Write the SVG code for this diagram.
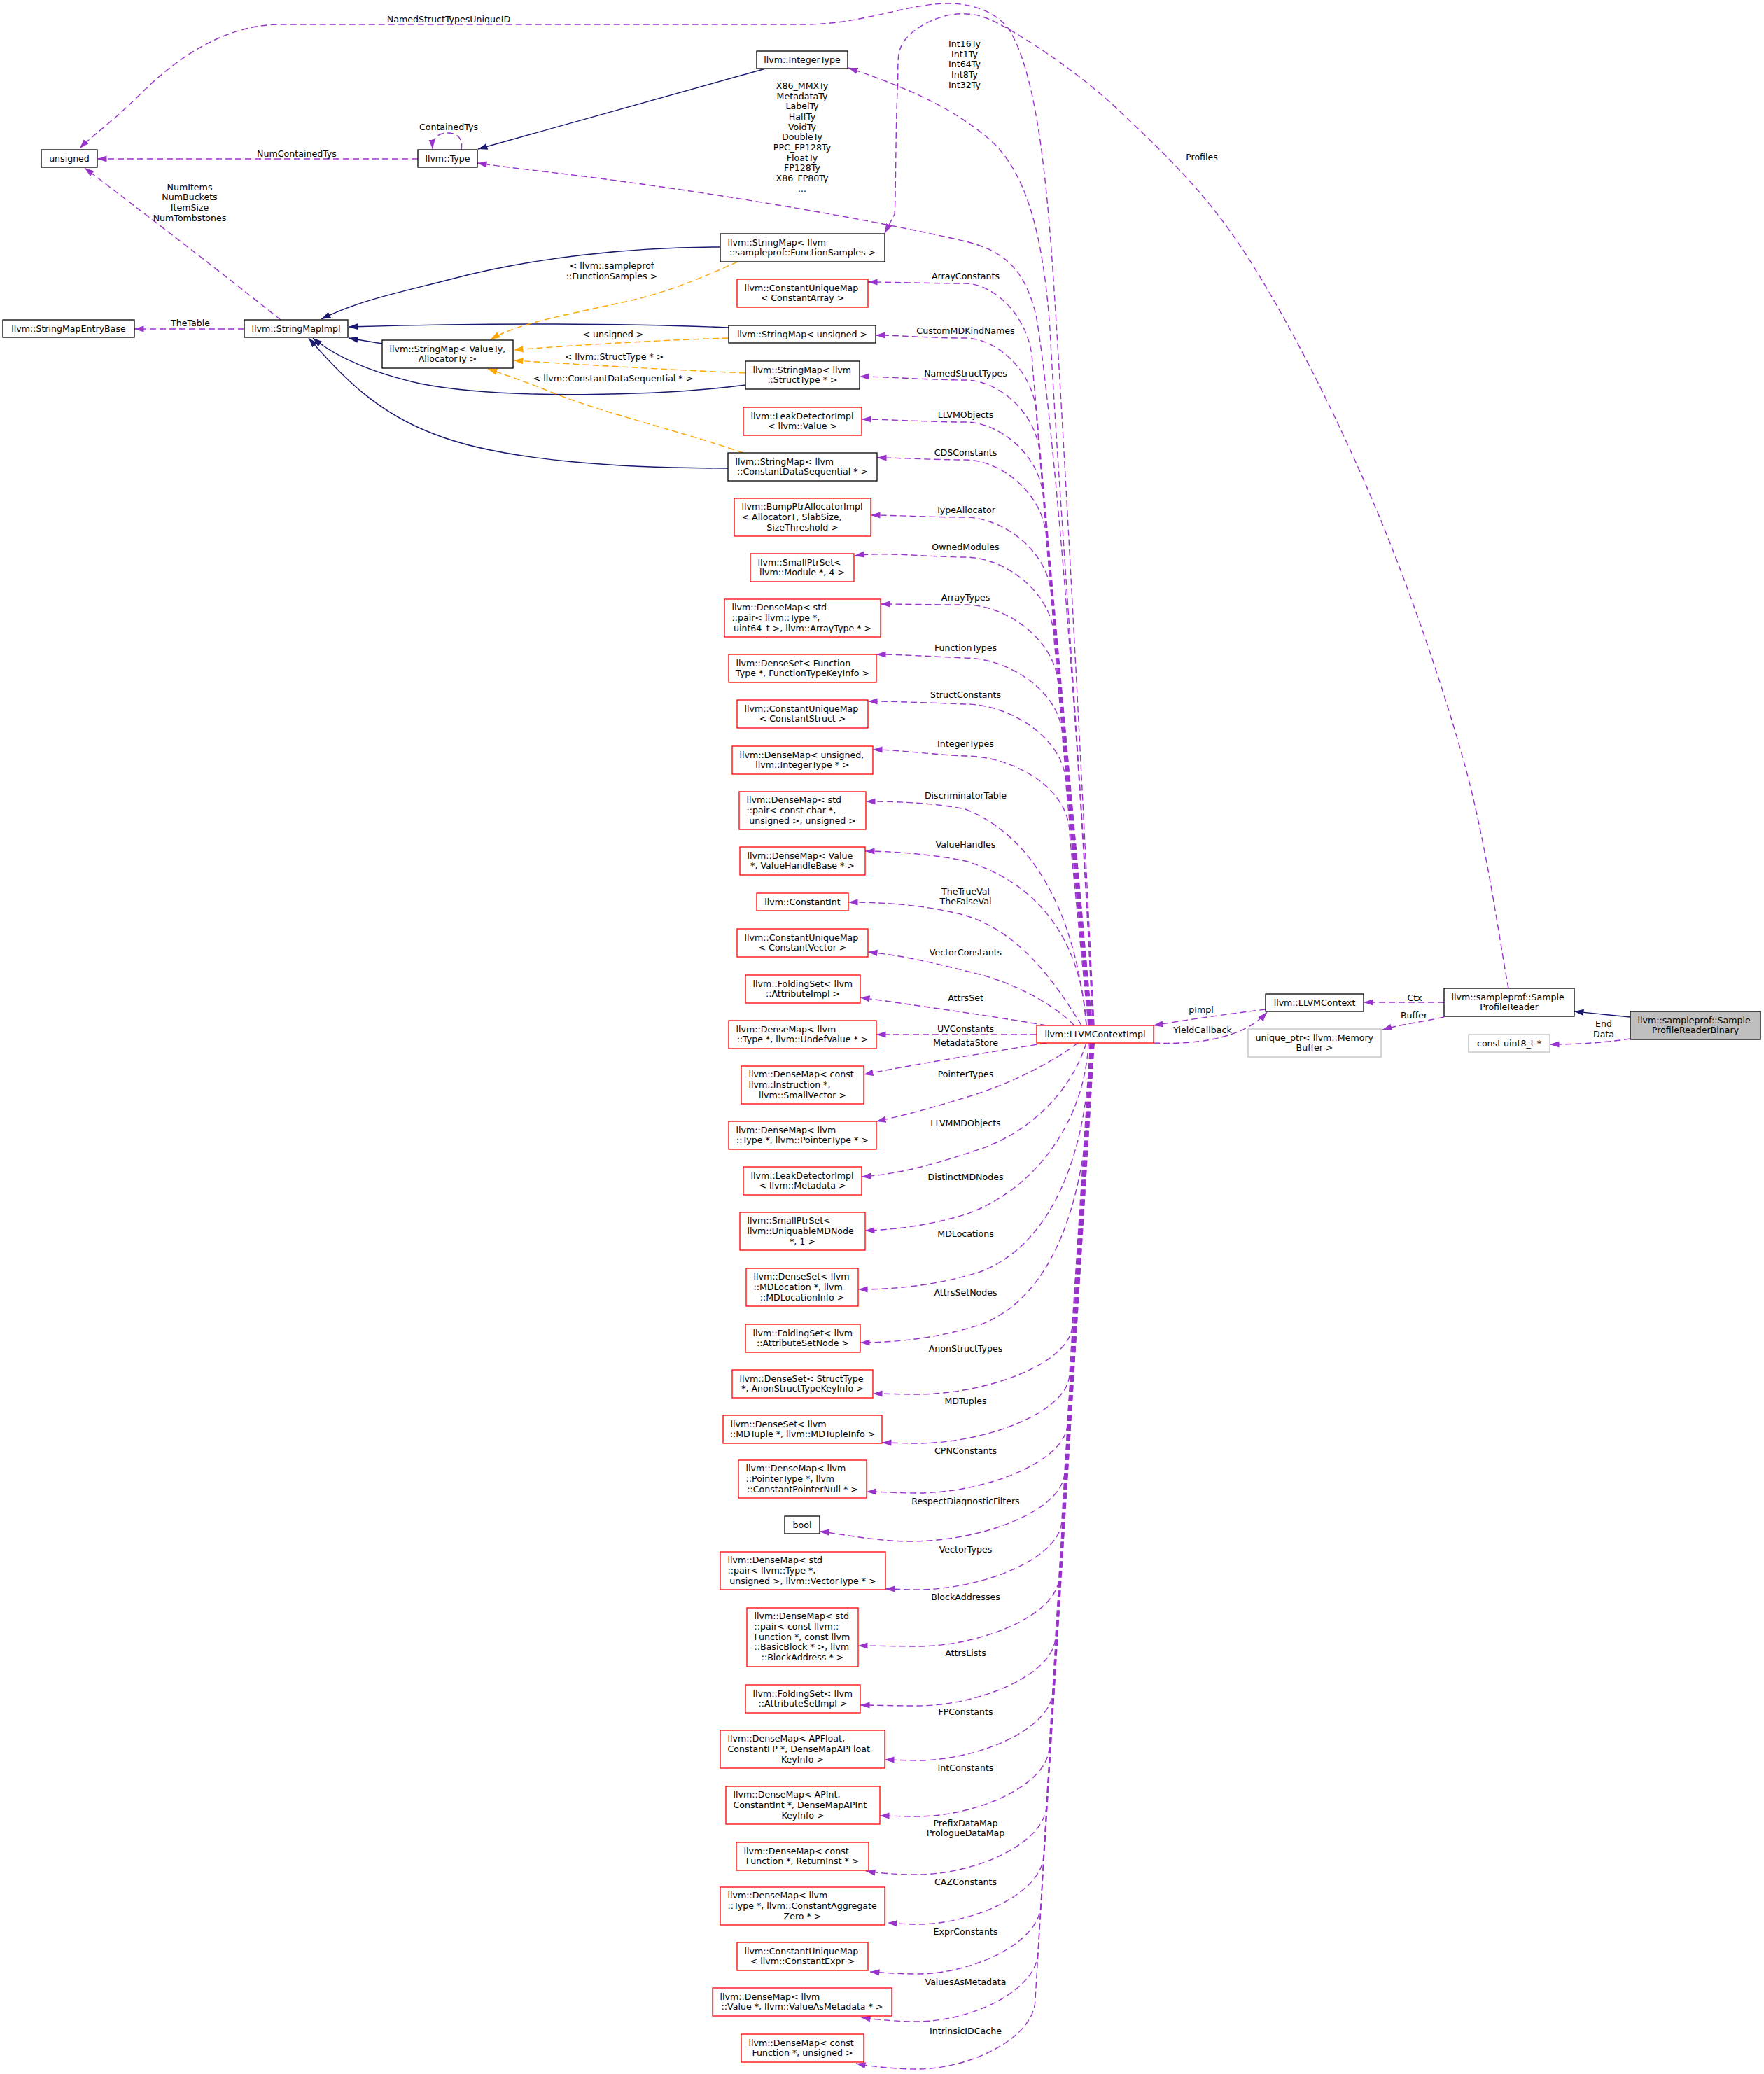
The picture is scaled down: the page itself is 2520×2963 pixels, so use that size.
<svg xmlns="http://www.w3.org/2000/svg" width="2520" height="2963" viewBox="0 0 2520 2963">
<defs>
<style>
text{font-family:"DejaVu Sans","Liberation Sans",sans-serif;font-size:12.6px;fill:#000}
.m{text-anchor:middle}
.nb{fill:#fff;stroke:#000;stroke-width:1.3}
.nr{fill:#fff;stroke:#ff0000;stroke-width:1.3}
.ng{fill:#fff;stroke:#bfbfbf;stroke-width:1.3}
.nf{fill:#bfbfbf;stroke:#000;stroke-width:1.3}
.ep{fill:none;stroke:#9a32cd;stroke-width:1.4;stroke-dasharray:9,5;marker-end:url(#mp)}
.en{fill:none;stroke:#191970;stroke-width:1.4;marker-end:url(#mn)}
.eo{fill:none;stroke:#ffa500;stroke-width:1.4;stroke-dasharray:9,5;marker-end:url(#mo)}
</style>
<marker id="mp" viewBox="0 0 14 10" refX="13.5" refY="5" markerWidth="14" markerHeight="10" markerUnits="userSpaceOnUse" orient="auto"><path d="M0,0.4 L13.5,5 L0,9.6 z" fill="#9a32cd"/></marker>
<marker id="mn" viewBox="0 0 14 10" refX="13.5" refY="5" markerWidth="14" markerHeight="10" markerUnits="userSpaceOnUse" orient="auto"><path d="M0,0.4 L13.5,5 L0,9.6 z" fill="#191970"/></marker>
<marker id="mo" viewBox="0 0 14 10" refX="13.5" refY="5" markerWidth="14" markerHeight="10" markerUnits="userSpaceOnUse" orient="auto"><path d="M0,0.4 L13.5,5 L0,9.6 z" fill="#ffa500"/></marker>
</defs>
<rect x="0" y="0" width="2520" height="2963" fill="#fff"/>

<g id="edges">
<path class="ep" d="M 1563,1465 C 1545,1100 1520,620 1505,400 C 1495,250 1480,100 1440,40 C 1420,15 1385,4 1350,5 C 1290,7 1230,35 1150,35 L 401,35 C 320,35 250,85 200,135 C 160,175 130,195 114,212"/>
<text class="m" x="641" y="31.5">NamedStructTypesUniqueID</text>
<path class="ep" d="M 1561,1465 C 1540,1000 1500,560 1480,450 C 1465,390 1440,360 1380,345 C 1250,315 1050,280 850,254 C 780,245 730,240 682,233"/>
<text class="m" x="1146" y="126.8">X86_MMXTy</text>
<text class="m" x="1146" y="141.5">MetadataTy</text>
<text class="m" x="1146" y="156.2">LabelTy</text>
<text class="m" x="1146" y="170.9">HalfTy</text>
<text class="m" x="1146" y="185.6">VoidTy</text>
<text class="m" x="1146" y="200.3">DoubleTy</text>
<text class="m" x="1146" y="215">PPC_FP128Ty</text>
<text class="m" x="1146" y="229.7">FloatTy</text>
<text class="m" x="1146" y="244.4">FP128Ty</text>
<text class="m" x="1146" y="259.1">X86_FP80Ty</text>
<text class="m" x="1146" y="273.8">...</text>
<path class="ep" d="M 1562,1465 C 1545,1100 1512,700 1500,470 C 1490,330 1465,250 1420,205 C 1360,150 1280,120 1212,97"/>
<text class="m" x="1378" y="66.8">Int16Ty</text>
<text class="m" x="1378" y="81.5">Int1Ty</text>
<text class="m" x="1378" y="96.2">Int64Ty</text>
<text class="m" x="1378" y="110.9">Int8Ty</text>
<text class="m" x="1378" y="125.6">Int32Ty</text>
<path class="ep" d="M 2155,1412 C 2144.3,1357.8 2124,1204.7 2091,1087 C 2058,969.3 2009,826.8 1957,706 C 1905,585.2 1837.8,452.5 1779,362 C 1720.2,271.5 1658.8,215.5 1604,163 C 1549.2,110.5 1489.5,70.8 1450,47 C 1410.5,23.2 1393.2,18.3 1367,20 C 1340.8,21.7 1307.2,38.2 1293,57 C 1278.8,75.8 1284.5,90.2 1282,133 C 1279.5,175.8 1280,281 1278,306 L 1264,333"/>
<text class="m" x="1717" y="229">Profiles</text>

<path class="ep" d="M 1560,1465 L 1475,523 C 1475,457 1422,405 1379,405 C 1330,405 1275,403 1240,403"/>
<text class="m" x="1379.5" y="398.5">ArrayConstants</text>
<path class="ep" d="M 1560,1465 L 1481,599 C 1481,533 1425,483 1379,483 C 1330,483 1286,479 1251,479"/>
<text class="m" x="1379.5" y="477">CustomMDKindNames</text>
<path class="ep" d="M 1559,1465 L 1486,658 C 1486,592 1427,543 1379,543 C 1330,543 1263,538 1228,538"/>
<text class="m" x="1379.5" y="537.5">NamedStructTypes</text>
<path class="ep" d="M 1559,1465 L 1491,719 C 1491,653 1429,603 1379,603 C 1330,603 1266,599 1231,599"/>
<text class="m" x="1379.5" y="597.2">LLVMObjects</text>
<path class="ep" d="M 1558,1465 L 1495,774 C 1495,708 1431,657 1379,657 C 1330,657 1288,654 1253,654"/>
<text class="m" x="1379.5" y="650.5">CDSConstants</text>
<path class="ep" d="M 1558,1465 L 1502,856 C 1502,790 1434,739 1379,739 C 1330,739 1279,736 1244,736"/>
<text class="m" x="1379.5" y="732.5">TypeAllocator</text>
<path class="ep" d="M 1557,1465 L 1506,914 C 1506,848 1436,796 1379,796 C 1330,796 1260,788 1221,794"/>
<text class="m" x="1379.5" y="785.5">OwnedModules</text>
<path class="ep" d="M 1557,1465 L 1512,983 C 1512,917 1439,864 1379,864 C 1330,864 1293,863 1258,863"/>
<text class="m" x="1379.5" y="857.5">ArrayTypes</text>
<path class="ep" d="M 1556,1465 L 1518,1055 C 1518,989 1441,940 1379,940 C 1330,938 1287,935 1252,935"/>
<text class="m" x="1379.5" y="929.5">FunctionTypes</text>
<path class="ep" d="M 1556,1465 L 1523,1122 C 1523,1056 1444,1006 1379,1006 C 1330,1004 1275,1002 1240,1002"/>
<text class="m" x="1379.5" y="997.2">StructConstants</text>
<path class="ep" d="M 1555,1465 L 1528,1191 C 1528,1125 1446,1080 1379,1080 C 1330,1078 1282,1071 1247,1071"/>
<text class="m" x="1379.5" y="1066.5">IntegerTypes</text>
<path class="ep" d="M 1552,1465 C 1540,1330 1490,1200 1379,1156 C 1330,1146 1272,1145 1237,1145"/>
<text class="m" x="1379.5" y="1140.5">DiscriminatorTable</text>
<path class="ep" d="M 1552,1465 C 1545,1340 1480,1260 1379,1230 C 1330,1220 1272,1216 1236,1216"/>
<text class="m" x="1379.5" y="1210.5">ValueHandles</text>
<path class="ep" d="M 1545,1465 C 1500,1390 1450,1330 1380,1308 C 1320,1292 1260,1289 1212,1289"/>
<text class="m" x="1379.5" y="1277.5">TheTrueVal</text>
<text class="m" x="1379.5" y="1292.2">TheFalseVal</text>
<path class="ep" d="M 1535,1465 C 1500,1430 1440,1400 1379,1387 C 1320,1372 1280,1364 1240,1360"/>
<text class="m" x="1379.5" y="1365">VectorConstants</text>
<path class="ep" d="M 1495,1465 C 1420,1452 1300,1435 1229,1425"/>
<text class="m" x="1379.5" y="1429.5">AttrsSet</text>
<path class="ep" d="M 1481,1478 L 1252,1478"/>
<text class="m" x="1379.5" y="1474">UVConstants</text>

<path class="ep" d="M 1495,1490 C 1420,1502 1300,1522 1234,1535"/>
<text class="m" x="1379.5" y="1493.5">MetadataStore</text>
<path class="ep" d="M 1540,1490 C 1500,1520 1440,1550 1379,1568 C 1330,1583 1290,1594 1252,1602"/>
<text class="m" x="1379.5" y="1539">PointerTypes</text>
<path class="ep" d="M 1552,1490 C 1530,1560 1470,1620 1393,1644 C 1330,1665 1280,1678 1231,1681"/>
<text class="m" x="1379.5" y="1608.5">LLVMMDObjects</text>
<path class="ep" d="M 1555,1490 C 1550,1600 1480,1700 1379,1735 C 1330,1750 1280,1757 1236,1758"/>
<text class="m" x="1379.5" y="1685.5">DistinctMDNodes</text>
<path class="ep" d="M 1557,1490 C 1555,1650 1500,1780 1400,1817 C 1340,1836 1280,1842 1226,1842"/>
<text class="m" x="1379.5" y="1766.5">MDLocations</text>
<path class="ep" d="M 1558,1490 C 1560,1700 1510,1850 1402,1892 C 1340,1912 1280,1918 1229,1918"/>
<text class="m" x="1379.5" y="1850.5">AttrsSetNodes</text>
<path class="ep" d="M 1558,1490 L 1532,1892 C 1532,1947 1410,1992 1310,1992 C 1285,1992 1262,1991 1247,1991"/>
<text class="m" x="1379.5" y="1931">AnonStructTypes</text>
<path class="ep" d="M 1559,1490 L 1528,1962 C 1528,2017 1408,2062 1310,2062 C 1290,2062 1275,2061 1260,2061"/>
<text class="m" x="1379.5" y="2006">MDTuples</text>
<path class="ep" d="M 1559,1490 L 1525,2033 C 1525,2088 1407,2133 1310,2133 C 1280,2133 1258,2131 1238,2131"/>
<text class="m" x="1379.5" y="2077">CPNConstants</text>
<path class="ep" d="M 1560,1490 L 1521,2102 C 1521,2157 1405,2202 1300,2202 C 1250,2202 1195,2190 1171,2188"/>
<text class="m" x="1379.5" y="2149">RespectDiagnosticFilters</text>
<path class="ep" d="M 1560,1490 L 1517,2171 C 1517,2226 1403,2271 1310,2271 C 1290,2271 1280,2270 1265,2270"/>
<text class="m" x="1379.5" y="2217.5">VectorTypes</text>
<path class="ep" d="M 1560,1490 L 1513,2252 C 1513,2307 1401,2352 1310,2352 C 1280,2352 1246,2351 1226,2351"/>
<text class="m" x="1379.5" y="2285.5">BlockAddresses</text>
<path class="ep" d="M 1561,1490 L 1508,2337 C 1508,2392 1399,2437 1310,2437 C 1280,2437 1249,2436 1229,2436"/>
<text class="m" x="1379.5" y="2365.5">AttrsLists</text>
<path class="ep" d="M 1561,1490 L 1504,2415 C 1504,2470 1397,2515 1310,2515 C 1290,2515 1279,2514 1264,2514"/>
<text class="m" x="1379.5" y="2449.5">FPConstants</text>
<path class="ep" d="M 1561,1490 L 1499,2495 C 1499,2550 1395,2595 1310,2595 C 1290,2595 1272,2594 1257,2594"/>
<text class="m" x="1379.5" y="2529.5">IntConstants</text>
<path class="ep" d="M 1562,1490 L 1495,2578 C 1495,2633 1393,2678 1310,2678 C 1280,2678 1255,2676 1237,2673"/>
<text class="m" x="1379.5" y="2608.5">PrefixDataMap</text>
<text class="m" x="1379.5" y="2623.2">PrologueDataMap</text>
<path class="ep" d="M 1562,1490 L 1491,2649 C 1491,2704 1391,2749 1310,2749 C 1295,2749 1283,2748 1268,2747"/>
<text class="m" x="1379.5" y="2692.5">CAZConstants</text>
<path class="ep" d="M 1562,1490 L 1487,2720 C 1487,2775 1390,2820 1310,2820 C 1285,2820 1260,2818 1243,2817"/>
<text class="m" x="1379.5" y="2763.5">ExprConstants</text>
<path class="ep" d="M 1563,1490 L 1483,2788 C 1483,2843 1388,2888 1310,2888 C 1280,2888 1250,2885 1230,2882"/>
<text class="m" x="1379.5" y="2835.5">ValuesAsMetadata</text>
<path class="ep" d="M 1563,1490 L 1479,2856 C 1479,2911 1386,2956 1310,2956 C 1280,2956 1243,2952 1223,2948"/>
<text class="m" x="1379.5" y="2905.5">IntrinsicIDCache</text>

<path class="ep" d="M 1808,1442 C 1760,1448 1700,1456 1648,1465"/>
<text class="m" x="1716" y="1446.5">pImpl</text>
<path class="ep" d="M 1648,1490 C 1720,1493 1780,1480 1810,1446"/>
<text class="m" x="1718" y="1475.5">YieldCallback</text>
<path class="ep" d="M 2063,1432 L 1948,1432"/>
<text class="m" x="2021" y="1429.5">Ctx</text>
<path class="ep" d="M 2063,1453 C 2030,1460 2000,1464 1975,1471"/>
<text class="m" x="2020" y="1454.5">Buffer</text>
<path class="ep" d="M 2329,1484 C 2290,1490 2250,1492 2214,1492"/>
<text class="m" x="2291" y="1466.8">End</text>
<text class="m" x="2291" y="1482.2">Data</text>
<path class="en" d="M 2329,1453 L 2249,1445"/>

<path class="ep" d="M 659,214 C 662,200 655,190 640,190 C 625,190 617,198 618,213"/>
<text class="m" x="641" y="185.5">ContainedTys</text>
<path class="ep" d="M 597,227 L 139,227"/>
<text class="m" x="424" y="223.5">NumContainedTys</text>
<path class="ep" d="M 401,457 C 330,400 200,300 121,240"/>
<text class="m" x="271" y="271.5">NumItems</text>
<text class="m" x="271" y="286.2">NumBuckets</text>
<text class="m" x="271" y="300.9">ItemSize</text>
<text class="m" x="271" y="315.6">NumTombstones</text>
<path class="ep" d="M 349,470 L 192,470"/>
<text class="m" x="272" y="465.5">TheTable</text>

<path class="en" d="M 1094,98 L 683,213"/>
<path class="en" d="M 1029,353 C 900,353 760,368 640,400 C 570,418 510,430 459,456"/>
<path class="en" d="M 1041,468 C 900,462 700,461 498,467"/>
<path class="en" d="M 546,491 L 498,483"/>
<path class="en" d="M 1065,550 C 950,565 720,572 600,548 C 530,532 480,510 447,483"/>
<path class="en" d="M 1040,669 C 900,669 720,660 620,620 C 540,590 490,540 441,483"/>

<path class="eo" d="M 1054,374 C 1000,398 950,420 880,434 C 800,452 740,462 701,485"/>
<text class="m" x="874" y="383.8">&lt; llvm::sampleprof</text>
<text class="m" x="874" y="398.5">::FunctionSamples &gt;</text>
<path class="eo" d="M 1041,483 C 950,486 850,491 734,500"/>
<text class="m" x="876" y="482.2">&lt; unsigned &gt;</text>
<path class="eo" d="M 1065,533 C 950,528 850,522 734,515"/>
<text class="m" x="877.5" y="513.5">&lt; llvm::StructType * &gt;</text>
<path class="eo" d="M 1062,647 C 960,612 860,590 787,560 C 750,545 720,535 697,527"/>
<text class="m" x="876" y="545.2">&lt; llvm::ConstantDataSequential * &gt;</text>
</g>

<g id="n_unsigned"><rect class="nb" x="59" y="214" width="80" height="25"/><text class="m" x="99" y="231">unsigned</text></g>
<g id="n_type"><rect class="nb" x="597" y="214" width="85" height="25"/><text class="m" x="639.5" y="231">llvm::Type</text></g>
<g id="n_integertype"><rect class="nb" x="1081" y="73" width="130" height="25"/><text class="m" x="1146" y="90">llvm::IntegerType</text></g>
<g id="n_stringmapentrybase"><rect class="nb" x="4" y="457" width="188" height="25"/><text class="m" x="98" y="474">llvm::StringMapEntryBase</text></g>
<g id="n_stringmapimpl"><rect class="nb" x="349" y="457" width="148" height="25"/><text class="m" x="423" y="474">llvm::StringMapImpl</text></g>
<g id="n_stringmap_tpl"><rect class="nb" x="546" y="486" width="187" height="40"/><text x="556.5" y="502.6">llvm::StringMap&lt; ValueTy,</text><text class="m" x="639.5" y="517.3">AllocatorTy &gt;</text></g>
<g id="n_stringmap_fs"><rect class="nb" x="1029" y="334" width="235" height="40"/><text x="1039.5" y="350.6">llvm::StringMap&lt; llvm</text><text class="m" x="1146.5" y="365.3">::sampleprof::FunctionSamples &gt;</text></g>
<g id="n_cum_array"><rect class="nr" x="1053" y="399" width="187" height="40"/><text x="1063.5" y="415.6">llvm::ConstantUniqueMap</text><text class="m" x="1146.5" y="430.3">&lt; ConstantArray &gt;</text></g>
<g id="n_stringmap_unsigned"><rect class="nb" x="1041" y="465" width="210" height="25"/><text class="m" x="1146" y="482">llvm::StringMap&lt; unsigned &gt;</text></g>
<g id="n_stringmap_struct"><rect class="nb" x="1065" y="516" width="163" height="40"/><text x="1075.5" y="532.6">llvm::StringMap&lt; llvm</text><text class="m" x="1146.5" y="547.3">::StructType * &gt;</text></g>
<g id="n_leak_value"><rect class="nr" x="1062" y="582" width="169" height="40"/><text x="1072.5" y="598.6">llvm::LeakDetectorImpl</text><text class="m" x="1146.5" y="613.3">&lt; llvm::Value &gt;</text></g>
<g id="n_stringmap_cds"><rect class="nb" x="1040" y="647" width="213" height="40"/><text x="1050.5" y="663.6">llvm::StringMap&lt; llvm</text><text class="m" x="1146.5" y="678.3">::ConstantDataSequential * &gt;</text></g>
<g id="n_bumpptr"><rect class="nr" x="1049" y="712" width="195" height="54"/><text x="1059.5" y="728.3">llvm::BumpPtrAllocatorImpl</text><text x="1059.5" y="743">&lt; AllocatorT, SlabSize,</text><text class="m" x="1146.5" y="757.7">SizeThreshold &gt;</text></g>
<g id="n_sps_module"><rect class="nr" x="1072" y="791" width="148" height="40"/><text x="1082.5" y="807.6">llvm::SmallPtrSet&lt;</text><text class="m" x="1146" y="822.3">llvm::Module *, 4 &gt;</text></g>
<g id="n_dm_arraytype"><rect class="nr" x="1035" y="856" width="223" height="54"/><text x="1045.5" y="872.3">llvm::DenseMap&lt; std</text><text x="1045.5" y="887">::pair&lt; llvm::Type *,</text><text class="m" x="1146.5" y="901.7">uint64_t &gt;, llvm::ArrayType * &gt;</text></g>
<g id="n_ds_functiontype"><rect class="nr" x="1041" y="935" width="211" height="40"/><text x="1051.5" y="951.6">llvm::DenseSet&lt; Function</text><text class="m" x="1146.5" y="966.3">Type *, FunctionTypeKeyInfo &gt;</text></g>
<g id="n_cum_struct"><rect class="nr" x="1053" y="1000" width="187" height="40"/><text x="1063.5" y="1016.6">llvm::ConstantUniqueMap</text><text class="m" x="1146.5" y="1031.3">&lt; ConstantStruct &gt;</text></g>
<g id="n_dm_integertype"><rect class="nr" x="1046" y="1066" width="201" height="40"/><text x="1056.5" y="1082.6">llvm::DenseMap&lt; unsigned,</text><text class="m" x="1146.5" y="1097.3">llvm::IntegerType * &gt;</text></g>
<g id="n_dm_discriminator"><rect class="nr" x="1056" y="1131" width="181" height="54"/><text x="1066.5" y="1147.3">llvm::DenseMap&lt; std</text><text x="1066.5" y="1162">::pair&lt; const char *,</text><text class="m" x="1146.5" y="1176.7">unsigned &gt;, unsigned &gt;</text></g>
<g id="n_dm_valuehandle"><rect class="nr" x="1057" y="1210" width="179" height="40"/><text x="1067.5" y="1226.6">llvm::DenseMap&lt; Value</text><text class="m" x="1146.5" y="1241.3">*, ValueHandleBase * &gt;</text></g>
<g id="n_constantint"><rect class="nr" x="1081" y="1276" width="131" height="25"/><text class="m" x="1146.5" y="1293">llvm::ConstantInt</text></g>
<g id="n_cum_vector"><rect class="nr" x="1053" y="1327" width="187" height="40"/><text x="1063.5" y="1343.6">llvm::ConstantUniqueMap</text><text class="m" x="1146.5" y="1358.3">&lt; ConstantVector &gt;</text></g>
<g id="n_fs_attributeimpl"><rect class="nr" x="1065" y="1393" width="164" height="40"/><text x="1075.5" y="1409.6">llvm::FoldingSet&lt; llvm</text><text class="m" x="1147" y="1424.3">::AttributeImpl &gt;</text></g>
<g id="n_dm_undef"><rect class="nr" x="1041" y="1458" width="211" height="40"/><text x="1051.5" y="1474.6">llvm::DenseMap&lt; llvm</text><text class="m" x="1146.5" y="1489.3">::Type *, llvm::UndefValue * &gt;</text></g>
<g id="n_dm_instruction"><rect class="nr" x="1059" y="1523" width="175" height="54"/><text x="1069.5" y="1539.3">llvm::DenseMap&lt; const</text><text x="1069.5" y="1554">llvm::Instruction *,</text><text class="m" x="1146.5" y="1568.7">llvm::SmallVector &gt;</text></g>
<g id="n_dm_pointertype"><rect class="nr" x="1041" y="1602" width="211" height="40"/><text x="1051.5" y="1618.6">llvm::DenseMap&lt; llvm</text><text class="m" x="1146.5" y="1633.3">::Type *, llvm::PointerType * &gt;</text></g>
<g id="n_leak_metadata"><rect class="nr" x="1062" y="1667" width="169" height="40"/><text x="1072.5" y="1683.6">llvm::LeakDetectorImpl</text><text class="m" x="1146.5" y="1698.3">&lt; llvm::Metadata &gt;</text></g>
<g id="n_sps_mdnode"><rect class="nr" x="1057" y="1732" width="179" height="54"/><text x="1067.5" y="1748.3">llvm::SmallPtrSet&lt;</text><text x="1067.5" y="1763">llvm::UniquableMDNode</text><text class="m" x="1146.5" y="1777.7">*, 1 &gt;</text></g>
<g id="n_ds_mdlocation"><rect class="nr" x="1066" y="1812" width="160" height="54"/><text x="1076.5" y="1828.3">llvm::DenseSet&lt; llvm</text><text x="1076.5" y="1843">::MDLocation *, llvm</text><text class="m" x="1146" y="1857.7">::MDLocationInfo &gt;</text></g>
<g id="n_fs_attrsetnode"><rect class="nr" x="1065" y="1892" width="164" height="40"/><text x="1075.5" y="1908.6">llvm::FoldingSet&lt; llvm</text><text class="m" x="1147" y="1923.3">::AttributeSetNode &gt;</text></g>
<g id="n_ds_anonstruct"><rect class="nr" x="1046" y="1957" width="201" height="40"/><text x="1056.5" y="1973.6">llvm::DenseSet&lt; StructType</text><text class="m" x="1146.5" y="1988.3">*, AnonStructTypeKeyInfo &gt;</text></g>
<g id="n_ds_mdtuple"><rect class="nr" x="1033" y="2022" width="227" height="40"/><text x="1043.5" y="2038.6">llvm::DenseSet&lt; llvm</text><text class="m" x="1146.5" y="2053.3">::MDTuple *, llvm::MDTupleInfo &gt;</text></g>
<g id="n_dm_cpn"><rect class="nr" x="1055" y="2086" width="183" height="54"/><text x="1065.5" y="2102.3">llvm::DenseMap&lt; llvm</text><text x="1065.5" y="2117">::PointerType *, llvm</text><text class="m" x="1146.5" y="2131.7">::ConstantPointerNull * &gt;</text></g>
<g id="n_bool"><rect class="nb" x="1121" y="2166" width="50" height="25"/><text class="m" x="1146" y="2183">bool</text></g>
<g id="n_dm_vectortype"><rect class="nr" x="1029" y="2217" width="236" height="54"/><text x="1039.5" y="2233.3">llvm::DenseMap&lt; std</text><text x="1039.5" y="2248">::pair&lt; llvm::Type *,</text><text class="m" x="1147" y="2262.7">unsigned &gt;, llvm::VectorType * &gt;</text></g>
<g id="n_dm_blockaddress"><rect class="nr" x="1067" y="2297" width="159" height="84"/><text x="1077.5" y="2313.3">llvm::DenseMap&lt; std</text><text x="1077.5" y="2328">::pair&lt; const llvm::</text><text x="1077.5" y="2342.7">Function *, const llvm</text><text x="1077.5" y="2357.4">::BasicBlock * &gt;, llvm</text><text class="m" x="1146.5" y="2372.1">::BlockAddress * &gt;</text></g>
<g id="n_fs_attrsetimpl"><rect class="nr" x="1065" y="2407" width="164" height="40"/><text x="1075.5" y="2423.6">llvm::FoldingSet&lt; llvm</text><text class="m" x="1147" y="2438.3">::AttributeSetImpl &gt;</text></g>
<g id="n_dm_apfloat"><rect class="nr" x="1029" y="2472" width="235" height="54"/><text x="1039.5" y="2488.3">llvm::DenseMap&lt; APFloat,</text><text x="1039.5" y="2503">ConstantFP *, DenseMapAPFloat</text><text class="m" x="1146.5" y="2517.7">KeyInfo &gt;</text></g>
<g id="n_dm_apint"><rect class="nr" x="1037" y="2552" width="220" height="54"/><text x="1047.5" y="2568.3">llvm::DenseMap&lt; APInt,</text><text x="1047.5" y="2583">ConstantInt *, DenseMapAPInt</text><text class="m" x="1147" y="2597.7">KeyInfo &gt;</text></g>
<g id="n_dm_returninst"><rect class="nr" x="1052" y="2632" width="189" height="40"/><text x="1062.5" y="2648.6">llvm::DenseMap&lt; const</text><text class="m" x="1146.5" y="2663.3">Function *, ReturnInst * &gt;</text></g>
<g id="n_dm_caz"><rect class="nr" x="1029" y="2696" width="235" height="54"/><text x="1039.5" y="2712.3">llvm::DenseMap&lt; llvm</text><text x="1039.5" y="2727">::Type *, llvm::ConstantAggregate</text><text class="m" x="1146.5" y="2741.7">Zero * &gt;</text></g>
<g id="n_cum_expr"><rect class="nr" x="1053" y="2775" width="187" height="40"/><text x="1063.5" y="2791.6">llvm::ConstantUniqueMap</text><text class="m" x="1146.5" y="2806.3">&lt; llvm::ConstantExpr &gt;</text></g>
<g id="n_dm_valueasmd"><rect class="nr" x="1018" y="2840" width="256" height="40"/><text x="1028.5" y="2856.6">llvm::DenseMap&lt; llvm</text><text class="m" x="1146" y="2871.3">::Value *, llvm::ValueAsMetadata * &gt;</text></g>
<g id="n_dm_intrinsicid"><rect class="nr" x="1059" y="2906" width="175" height="40"/><text x="1069.5" y="2922.6">llvm::DenseMap&lt; const</text><text class="m" x="1146.5" y="2937.3">Function *, unsigned &gt;</text></g>
<g id="n_llvmcontextimpl"><rect class="nr" x="1481" y="1465" width="167" height="25"/><text class="m" x="1564.5" y="1482">llvm::LLVMContextImpl</text></g>
<g id="n_llvmcontext"><rect class="nb" x="1808" y="1420" width="140" height="25"/><text class="m" x="1878" y="1437">llvm::LLVMContext</text></g>
<g id="n_uniqueptr"><rect class="ng" x="1783" y="1470" width="190" height="40"/><text x="1793.5" y="1486.6">unique_ptr&lt; llvm::Memory</text><text class="m" x="1878" y="1501.3">Buffer &gt;</text></g>
<g id="n_samplereader"><rect class="nb" x="2063" y="1412" width="186" height="40"/><text x="2073.5" y="1428.6">llvm::sampleprof::Sample</text><text class="m" x="2156" y="1443.3">ProfileReader</text></g>
<g id="n_uint8"><rect class="ng" x="2098" y="1478" width="116" height="25"/><text class="m" x="2156" y="1495">const uint8_t *</text></g>
<g id="n_samplereaderbinary"><rect class="nf" x="2329" y="1445" width="186" height="40"/><text x="2339.5" y="1461.6">llvm::sampleprof::Sample</text><text class="m" x="2422" y="1476.3">ProfileReaderBinary</text></g>
</svg>
